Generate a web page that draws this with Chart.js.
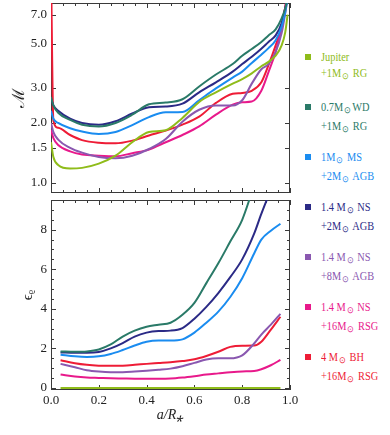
<!DOCTYPE html>
<html>
<head>
<meta charset="utf-8">
<script src="https://cdn.jsdelivr.net/npm/chart.js@4.4.1/dist/chart.umd.min.js"></script>
<style>
  body { margin: 0; background: #fff; width: 390px; height: 435px; overflow: hidden; position: relative; }
  .panel { position: absolute; left: 0; width: 300px; }
  #legend { position: absolute; left: 0; top: 0; font-family: "Liberation Serif", serif; font-size: 11.5px; }
  .item { position: absolute; left: 305px; white-space: nowrap; }
  .sq { position: absolute; left: 0; width: 6px; height: 6px; }
  .txt { position: absolute; left: 16px; line-height: 16px; transform: scaleX(0.9); transform-origin: left center; }
  sub { font-size: 9px; vertical-align: -2px; margin: 0 1px; }
</style>
</head>
<body>
<div class="panel" style="top:0;height:200px"><canvas id="topChart"></canvas></div>
<div class="panel" style="top:196px;height:239px"><canvas id="bottomChart"></canvas></div>
<div id="legend"></div>
<script>
// series labels (two lines each) and colours
const seriesLine1 = ["Jupiter", "0.7M⊙WD", "1M⊙ MS", "1.4 M⊙ NS", "1.4 M⊙ NS", "1.4 M⊙ NS", "4 M⊙ BH"];
const seriesLine2 = ["+1M⊙ RG", "+1M⊙ RG", "+2M⊙ AGB", "+2M⊙ AGB", "+8M⊙ AGB", "+16M⊙ RSG", "+16M⊙ RSG"];
const seriesColors = ["#8fbc1a", "#2a7a68", "#1a8cf0", "#2b2a86", "#8a58b0", "#e8198b", "#ee1c36"];

// top panel: Mach number vs a/R*
const xTop = [0, 0.01, 0.03, 0.08, 0.13, 0.2, 0.27, 0.34, 0.41, 0.48, 0.55, 0.62, 0.69, 0.76, 0.8, 0.84, 0.88, 0.91, 0.94, 0.965, 0.98, 0.99];
const machJupiter = [1.6, 1.35, 1.23, 1.18, 1.19, 1.25, 1.37, 1.6, 1.8, 1.84, 2.12, 2.55, 2.85, 3.15, 3.32, 3.55, 3.85, 4.05, 4.35, 4.9, 5.7, 7.0];
const machWD = [2.7, 2.45, 2.25, 2.07, 1.96, 1.92, 2.0, 2.2, 2.48, 2.53, 2.63, 3.05, 3.5, 3.95, 4.35, 4.7, 5.1, 5.5, 5.9, 6.7, 7.5, 8.5];
const machMS = [2.3, 2.1, 2.0, 1.88, 1.81, 1.76, 1.8, 1.95, 2.14, 2.26, 2.27, 2.6, 2.98, 3.38, 3.62, 4.0, 4.4, 4.75, 5.2, 6.1, 7.2, 8.5];
const machNS2 = [2.65, 2.45, 2.3, 2.1, 2.0, 1.96, 2.04, 2.23, 2.4, 2.42, 2.5, 2.85, 3.2, 3.62, 3.95, 4.3, 4.72, 5.1, 5.5, 6.35, 7.5, 8.5];
const machNS8 = [2.0, 1.8, 1.65, 1.5, 1.42, 1.35, 1.33, 1.37, 1.48, 1.66, 2.03, 2.33, 2.45, 2.45, 2.6, 3.15, 3.72, 3.95, 4.55, 5.65, 7.1, 8.5];
const machNS16 = [1.85, 1.68, 1.55, 1.44, 1.39, 1.37, 1.36, 1.41, 1.47, 1.6, 1.74, 1.92, 2.2, 2.47, 2.54, 2.56, 2.9, 3.6, 4.55, 6.1, 7.6, 9.0];
const machBH = [12, 2.05, 1.89, 1.74, 1.64, 1.59, 1.58, 1.63, 1.73, 1.83, 1.96, 2.15, 2.52, 2.8, 2.83, 2.9, 3.2, 3.9, 4.9, 6.1, 7.6, 9.0];

// bottom panel: density gradient vs a/R*
const xBottom = [0.04, 0.1, 0.15, 0.2, 0.25, 0.3, 0.35, 0.4, 0.45, 0.5, 0.55, 0.6, 0.65, 0.7, 0.75, 0.8, 0.85, 0.88, 0.92, 0.96];
const epsJupiter = [0, 0, 0, 0, 0, 0, 0, 0, 0, 0, 0, 0, 0, 0, 0, 0, 0, 0, 0, 0];
const epsWD = [1.85, 1.83, 1.85, 1.95, 2.2, 2.6, 2.9, 3.1, 3.2, 3.3, 3.7, 4.3, 5.3, 6.3, 7.4, 8.5, 10.2, 11, 12, 13];
const epsMS = [1.68, 1.6, 1.57, 1.6, 1.72, 1.92, 2.15, 2.34, 2.4, 2.4, 2.46, 2.8, 3.3, 3.86, 4.6, 5.55, 6.8, 7.5, 7.95, 8.3];
const epsNS2 = [1.8, 1.78, 1.78, 1.82, 2.0, 2.27, 2.6, 2.8, 2.88, 2.9, 3.03, 3.5, 4.1, 4.8, 5.6, 6.5, 7.8, 8.8, 10, 11];
const epsNS8 = [1.22, 1.05, 0.9, 0.83, 0.8, 0.8, 0.83, 0.87, 0.92, 0.98, 1.1, 1.27, 1.44, 1.5, 1.5, 1.65, 2.25, 2.7, 3.2, 3.75];
const epsNS16 = [0.68, 0.58, 0.53, 0.51, 0.49, 0.48, 0.47, 0.47, 0.47, 0.48, 0.53, 0.6, 0.68, 0.74, 0.8, 0.84, 0.86, 0.95, 1.15, 1.42];
const epsBH = [1.4, 1.25, 1.17, 1.13, 1.12, 1.13, 1.17, 1.22, 1.26, 1.3, 1.36, 1.45, 1.62, 1.83, 2.08, 2.14, 2.15, 2.34, 2.95, 3.6];

// axis ticks
const xTicks = [0, 0.2, 0.4, 0.6, 0.8, 1.0];
const xMinorTicks = [0.05, 0.1, 0.15, 0.25, 0.3, 0.35, 0.45, 0.5, 0.55, 0.65, 0.7, 0.75, 0.85, 0.9, 0.95];
const topYTicks = [1.0, 1.5, 2.0, 3.0, 5.0, 7.0];
const bottomYTicks = [0, 2, 4, 6, 8];
const bottomYMinor = [0.5, 1, 1.5, 2.5, 3, 3.5, 4.5, 5, 5.5, 6.5, 7, 7.5, 8.5, 9];

const machSeries = [machJupiter, machWD, machMS, machNS2, machNS8, machNS16, machBH];
const epsSeries = [epsJupiter, epsWD, epsMS, epsNS2, epsNS8, epsNS16, epsBH];

const tickFont = { family: "Liberation Serif", size: 13 };

// frame with inward ticks on all four sides
const framePlugin = {
  id: "frame",
  beforeDatasetsDraw(chart, args, opts) {
    const { ctx, chartArea: a } = chart;
    const xs = chart.scales.x, ys = chart.scales.y;
    ctx.save();
    ctx.strokeStyle = "#3a3a3a";
    ctx.lineWidth = 1;
    ctx.strokeRect(a.left + 0.5, a.top + 0.5, a.right - a.left - 1, a.bottom - a.top - 1);
    const tickX = (v, len) => {
      const p = Math.round(xs.getPixelForValue(v)) + 0.5;
      ctx.moveTo(p, a.bottom); ctx.lineTo(p, a.bottom - len);
      ctx.moveTo(p, a.top); ctx.lineTo(p, a.top + len);
    };
    const tickY = (v, len) => {
      const p = Math.round(ys.getPixelForValue(v)) + 0.5;
      ctx.moveTo(a.left, p); ctx.lineTo(a.left + len, p);
      ctx.moveTo(a.right, p); ctx.lineTo(a.right - len, p);
    };
    ctx.beginPath();
    xTicks.forEach(v => tickX(v, 5));
    xMinorTicks.forEach(v => tickX(v, 3));
    opts.yMajor.forEach(v => tickY(v, 5));
    opts.yMinor.forEach(v => tickY(v, 3));
    ctx.stroke();
    ctx.restore();
  }
};

function makeDatasets(xs, series) {
  return series.map((ys, i) => ({
    label: seriesLine1[i] + " " + seriesLine2[i],
    data: xs.map((x, j) => ({ x: x, y: ys[j] })),
    borderColor: seriesColors[i],
    borderWidth: 2,
    pointRadius: 0,
    cubicInterpolationMode: "monotone",
    fill: false
  }));
}

const noPad = s => { s.paddingTop = 0; s.paddingBottom = 0; s.paddingLeft = 0; s.paddingRight = 0; };

const xScaleBase = {
  type: "linear",
  min: 0,
  max: 1,
  grid: { display: false, drawTicks: false },
  border: { display: false },
  afterBuildTicks: s => { s.ticks = xTicks.map(v => ({ value: v })); }
};

new Chart(document.getElementById("topChart"), {
  type: "line",
  data: { datasets: makeDatasets(xTop, machSeries) },
  options: {
    responsive: true,
    maintainAspectRatio: false,
    animation: false,
    layout: { padding: { top: 3, right: 10, bottom: 7, left: 0 } },
    plugins: {
      legend: { display: false },
      tooltip: { enabled: false },
      frame: { yMajor: topYTicks, yMinor: [] }
    },
    scales: {
      x: Object.assign({}, xScaleBase, { display: false }),
      y: {
        type: "logarithmic",
        min: 0.89,
        max: 8.0,
        grid: { display: false, drawTicks: false },
        border: { display: false },
        afterBuildTicks: s => { s.ticks = topYTicks.map(v => ({ value: v })); },
        afterFit: s => { s.width = 51; noPad(s); },
        ticks: {
          autoSkip: false,
          padding: 4,
          color: "#222",
          font: tickFont,
          callback: v => Number(v).toFixed(1)
        },
        title: {
          display: true,
          text: "ℳ",
          color: "#222",
          font: { family: "Liberation Serif", size: 17 },
          padding: { top: 9, bottom: 0 }
        }
      }
    }
  },
  plugins: [framePlugin]
});

new Chart(document.getElementById("bottomChart"), {
  type: "line",
  data: { datasets: makeDatasets(xBottom, epsSeries) },
  options: {
    responsive: true,
    maintainAspectRatio: false,
    animation: false,
    layout: { padding: { top: 4, right: 10, bottom: 0, left: 0 } },
    plugins: {
      legend: { display: false },
      tooltip: { enabled: false },
      frame: { yMajor: bottomYTicks, yMinor: bottomYMinor }
    },
    scales: {
      x: Object.assign({}, xScaleBase, {
        afterFit: s => { s.height = 45; noPad(s); },
        ticks: {
          autoSkip: false,
          maxRotation: 0,
          padding: 3,
          color: "#222",
          font: tickFont,
          callback: v => Number(v).toFixed(1)
        },
        title: {
          display: true,
          text: "a/R⁎",
          color: "#222",
          font: { family: "Liberation Serif", size: 14, style: "italic" },
          padding: { top: 0, bottom: 11 }
        }
      }),
      y: {
        type: "linear",
        min: -0.1,
        max: 9.5,
        grid: { display: false, drawTicks: false },
        border: { display: false },
        afterBuildTicks: s => { s.ticks = bottomYTicks.map(v => ({ value: v })); },
        afterFit: s => { s.width = 51; noPad(s); },
        ticks: { autoSkip: false, padding: 4, color: "#222", font: tickFont },
        title: {
          display: true,
          text: "ϵᵨ",
          color: "#222",
          font: { family: "Liberation Serif", size: 15 },
          padding: { top: 19, bottom: 0 }
        }
      }
    }
  },
  plugins: [framePlugin]
});

// legend on the right
const legend = document.getElementById("legend");
const fmt = s => s.replace(/⊙/g, "<sub>⊙</sub>");
seriesLine1.forEach((t, i) => {
  const top = 57 + i * 50;
  const item = document.createElement("div");
  item.className = "item";
  item.style.top = top + "px";
  item.style.color = seriesColors[i];
  item.innerHTML =
    `<div class="sq" style="top:-3px;background:${seriesColors[i]}"></div>` +
    `<div class="txt" style="top:-8px">${fmt(t)}<br>${fmt(seriesLine2[i])}</div>`;
  legend.appendChild(item);
});
</script>
</body>
</html>
